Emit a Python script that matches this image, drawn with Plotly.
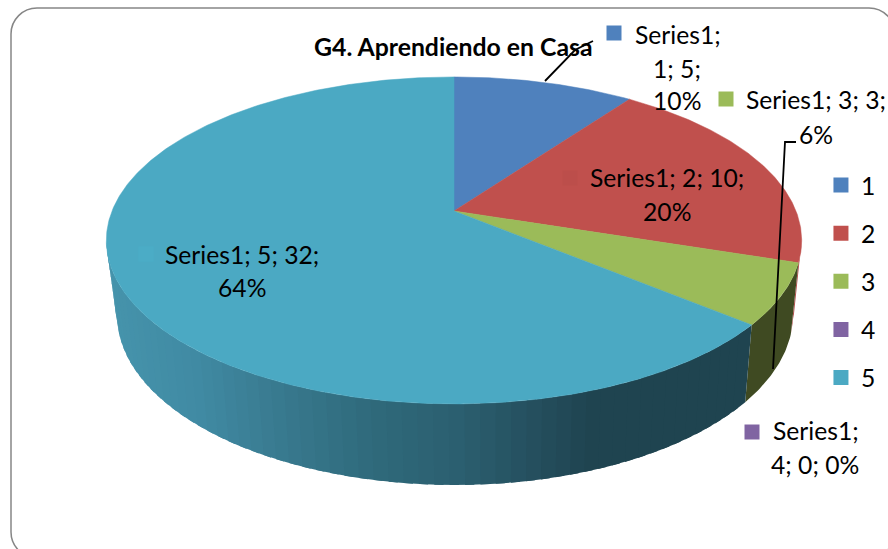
import math
import plotly.graph_objects as go

CATEGORIES = [1, 2, 3, 4, 5]
VALUES = [5, 10, 3, 0, 32]
SERIES = "Series1"
TITLE = "G4. Aprendiendo en Casa"
COLORS = ["#4f81bd", "#c0504d", "#9bbb59", "#8064a2", "#4ba9c3"]
WALL_RED = "#b5504e"
WALL_GREEN = "#3f4a22"
# teal wall shading stops (x position, rgb)
SHADE = [(105, (70, 148, 172)), (200, (64, 138, 163)), (300, (55, 119, 140)), (380, (47, 106, 123)),
         (470, (43, 95, 111)), (540, (37, 80, 95)), (600, (31, 68, 80)), (800, (31, 68, 80))]

FONT = "Lato"
FS = 24.7
total = sum(VALUES)

# projected pie geometry
CX, CY, RX, SY, K = 454.0, 211.0, 342.0, 158.2, 0.18
BX, BY, BRX, BRY = 455.0, 315.0, 338.0, 170.0


def top(th):
    u, v = math.sin(th), -math.cos(th)
    d = 1 - K * v
    return CX + RX * u / d, CY + SY * v / d


def bottom(th):
    x, _ = top(th)
    xb = BX + (x - CX) * 0.975
    t = min(1.0, abs(xb - BX) / BRX)
    return xb, BY + BRY * math.sqrt(1 - t * t)


def arc(a, b, fn, step=math.radians(0.5)):
    n = max(2, int(abs(b - a) / step) + 1)
    pts = [fn(a + (b - a) * i / (n - 1)) for i in range(n)]
    return [p[0] for p in pts], [p[1] for p in pts]


def shade(x):
    for (x0, c0), (x1, c1) in zip(SHADE, SHADE[1:]):
        if x0 <= x <= x1:
            t = (x - x0) / (x1 - x0)
            r, g, b = [round(p + (q - p) * t) for p, q in zip(c0, c1)]
            return f"rgb({r},{g},{b})"
    return f"rgb{SHADE[-1][1]}"


def poly(xs, ys, color, name=None, lw=0.5):
    return go.Scatter(x=xs, y=ys, mode="lines", fill="toself", fillcolor=color,
                      line=dict(color=color, width=lw), showlegend=False, hoverinfo="skip", name=name)


fig = go.Figure()

# cumulative angles
angles = [0.0]
for v in VALUES:
    angles.append(angles[-1] + v / total * 2 * math.pi)

WALL_START = math.pi - math.acos(K)
WALL_END = math.pi + math.acos(K)


def wall(a, b, color):
    xt, yt = arc(a, b, top)
    xb, yb = arc(a, b, bottom)
    return poly(xt + xb[::-1], yt + yb[::-1], color, lw=0)


# side walls: red, green, then teal banded by screen position (bands overlap to avoid seams)
fig.add_trace(wall(WALL_START, angles[2], WALL_RED))
fig.add_trace(wall(angles[2], angles[3], WALL_GREEN))
a0, a1 = angles[4], WALL_END
bands = 60
for i in range(bands - 1, -1, -1):
    a = a0 + (a1 - a0) * i / bands
    b = a0 + (a1 - a0) * (i + 1.6) / bands
    fig.add_trace(wall(a, min(b, a1), shade(top(a + (a1 - a0) / bands / 2)[0])))

# top faces
for i, v in enumerate(VALUES):
    if v == 0:
        continue
    xs, ys = arc(angles[i], angles[i + 1], top)
    fig.add_trace(poly([CX] + xs + [CX], [CY] + ys + [CY], COLORS[i], name=str(CATEGORIES[i])))

# leader lines
for lx, ly in [([545, 575, 593], [81, 50, 41]), ([773, 785, 796], [369, 142, 142])]:
    fig.add_trace(go.Scatter(x=lx, y=ly, mode="lines", line=dict(color="#000000", width=1.8),
                             showlegend=False, hoverinfo="skip"))

# keys next to the data labels
KEYX = [614, 570, 726, 752, 146]
KEYY = [33, 178, 99, 432, 254]
KEYC = [COLORS[0], "#bc4e4b", COLORS[2], COLORS[3], "#4bacc6"]
fig.add_trace(go.Scatter(x=KEYX, y=KEYY, mode="markers",
                         marker=dict(symbol="square", size=15, color=KEYC, line=dict(width=0)),
                         showlegend=False, hoverinfo="skip"))

# legend entries
for c, col in zip(CATEGORIES, COLORS):
    fig.add_trace(go.Scatter(x=[None], y=[None], mode="markers", name=str(c), legendgroup=str(c),
                             marker=dict(symbol="square", size=15, color=col)))

# data labels, one annotation per line
pct = [f"{round(v / total * 100)}%" for v in VALUES]
L = [
    (f"{SERIES};", 678, 34), (f"{CATEGORIES[0]}; {VALUES[0]};", 677, 68), (pct[0], 677, 100),
    (f"{SERIES}; {CATEGORIES[2]}; {VALUES[2]};", 816, 99), (pct[2], 816, 134),
    (f"{SERIES}; {CATEGORIES[1]}; {VALUES[1]};", 667, 177), (pct[1], 667, 211),
    (f"{SERIES}; {CATEGORIES[4]}; {VALUES[4]};", 242, 254), (pct[4], 242, 287),
    (f"{SERIES};", 816, 430), (f"{CATEGORIES[3]}; {VALUES[3]}; {pct[3]}", 815, 464),
]
for t, x, y in L:
    fig.add_annotation(x=x, y=y, text=t, showarrow=False, xanchor="center", yanchor="middle",
                       font=dict(family=FONT, size=FS, color="#000000"))
fig.add_annotation(x=453.5, y=46, text=f"<b>{TITLE}</b>", showarrow=False, xanchor="center", yanchor="middle",
                   font=dict(family=FONT, size=24.8, color="#000000"))

# rounded frame
l, t_, r_, b_, R = 11, 8, 895, 558, 26
c = R * 0.45
frame = (f"M {l+R} {t_} L {r_-R} {t_} C {r_-c} {t_} {r_} {t_+c} {r_} {t_+R} L {r_} {b_-R} "
         f"C {r_} {b_-c} {r_-c} {b_} {r_-R} {b_} L {l+R} {b_} C {l+c} {b_} {l} {b_-c} {l} {b_-R} "
         f"L {l} {t_+R} C {l} {t_+c} {l+c} {t_} {l+R} {t_} Z")
fig.add_shape(type="path", path=frame, xref="x", yref="y", line=dict(color="#868686", width=1.5), layer="below")

fig.update_layout(
    width=888, height=549, margin=dict(l=0, r=0, t=0, b=0), paper_bgcolor="#ffffff", plot_bgcolor="#ffffff",
    xaxis=dict(range=[0, 888], visible=False, fixedrange=True),
    yaxis=dict(range=[549, 0], visible=False, fixedrange=True),
    font=dict(family=FONT, size=FS, color="#000000"),
    legend=dict(x=0.9245, xanchor="left", y=1 - 162.5 / 549, yanchor="top", tracegroupgap=13,
                bgcolor="rgba(0,0,0,0)", itemwidth=30, font=dict(family=FONT, size=FS)),
    showlegend=True, hovermode=False,
)
fig.write_html("out.html", config={"displayModeBar": False},
               post_script="document.body.style.margin='0';")
